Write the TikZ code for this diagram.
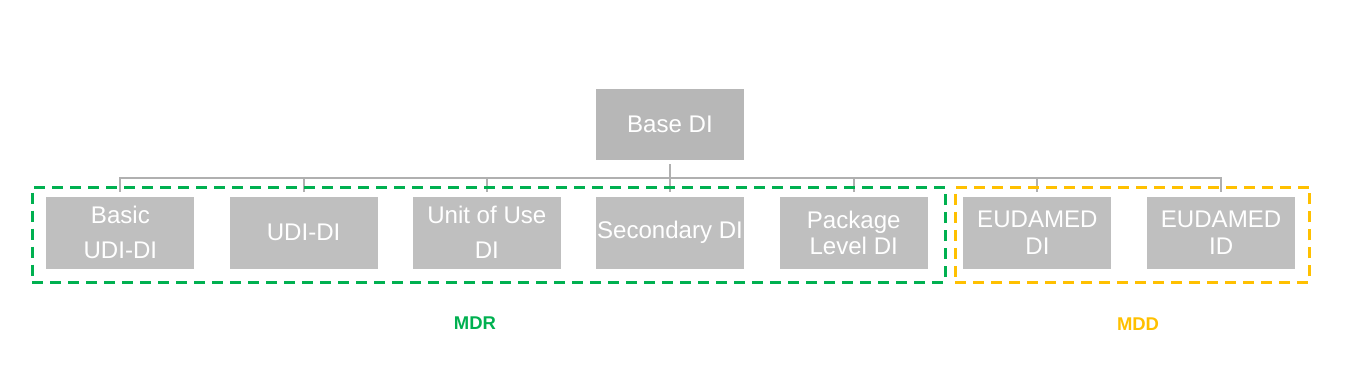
\documentclass[tikz,border=0pt]{standalone}
\usepackage{fontspec}
\setmainfont{Liberation Sans}
\usepackage{xcolor}
\usetikzlibrary{positioning,fit,calc}

\definecolor{boxgray}{HTML}{BFBFBF}
\definecolor{basegray}{HTML}{B7B7B7}
\definecolor{linkgray}{HTML}{B0B0B0}
\definecolor{mdrgreen}{HTML}{00B050}
\definecolor{mddyellow}{HTML}{FFC000}

\begin{document}
\begin{tikzpicture}[
  idbox/.style={fill=boxgray, minimum width=2.96cm, minimum height=1.44cm, inner sep=0pt, align=center, text=white, font=\fontsize{13.7}{15}\selectfont},
  wide/.style={font=\fontsize{13.7}{19.9}\selectfont},
  link/.style={draw=linkgray, line width=0.04cm},
  group/.style={line width=0.06cm, dash pattern=on 0.22cm off 0.14cm},
  grouplabel/.style={font=\fontsize{10.5}{12}\selectfont\bfseries}
]
  \useasboundingbox (0,0) rectangle (26.98,-7.58);

  \node[idbox, fill=basegray, minimum height=1.42cm] (base) at (13.40,-2.49) {Base DI};
  \node[idbox, below=0.72cm of base] (sec) {Secondary DI};
  \node[idbox, wide, left=0.69cm of sec] (unit) {Unit of Use\\DI};
  \node[idbox, left=0.69cm of unit] (udi) {UDI-DI};
  \node[idbox, wide, left=0.69cm of udi] (basic) {Basic\\UDI-DI};
  \node[idbox, right=0.70cm of sec] (pkg) {Package\\Level DI};
  \node[idbox, right=0.70cm of pkg] (eudi) {EUDAMED\\DI};
  \node[idbox, right=0.70cm of eudi] (euid) {EUDAMED\\ID};

  % tree connectors
  \coordinate (bus) at ($(base.south)+(0,-0.36)$);
  \draw[link, shorten <=0.08cm] (base) -- (bus);
  \foreach \c in {basic,udi,unit,sec,pkg,eudi,euid}
    \draw[link, shorten >=0.08cm] (bus) -| (\c.north);

  % regulation groups
  \node[group, draw=mdrgreen, fit=(basic)(pkg), inner xsep=0.31cm, inner ysep=0.22cm, xshift=0.03cm, yshift=-0.04cm] (mdrgroup) {};
  \node[group, draw=mddyellow, fit=(eudi)(euid), inner xsep=0.22cm, inner ysep=0.22cm, xshift=0.06cm, yshift=-0.04cm] (mddgroup) {};
  \node[grouplabel, text=mdrgreen] (mdr) at (9.50,-6.46) {MDR};
  \node[grouplabel, text=mddyellow] (mdd) at (22.76,-6.48) {MDD};
\end{tikzpicture}
\end{document}
